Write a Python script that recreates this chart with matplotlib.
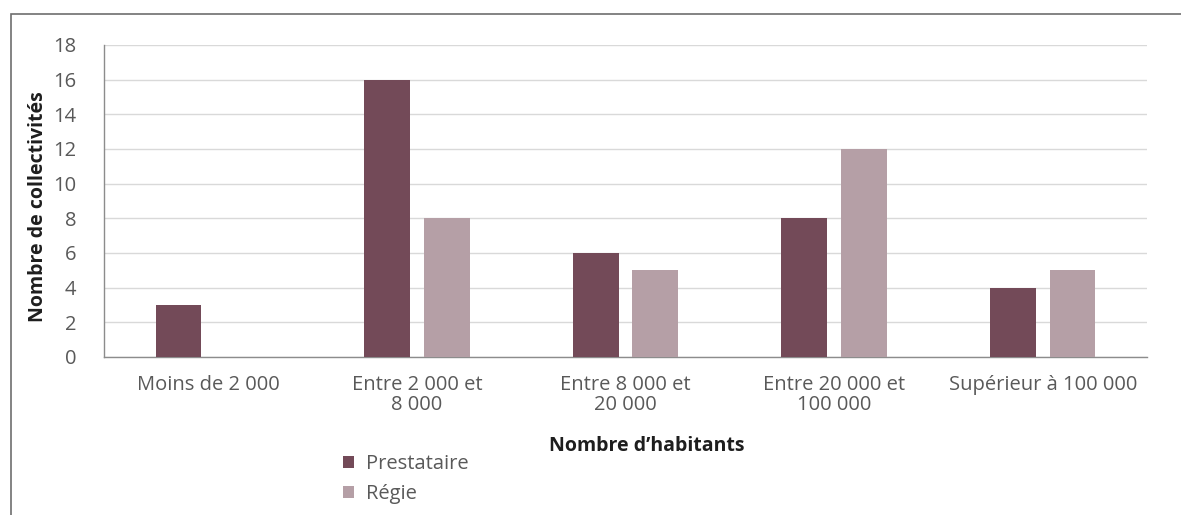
import matplotlib
matplotlib.use("Agg")
import matplotlib.pyplot as plt
import numpy as np
from matplotlib.patches import Rectangle

categories = ["Moins de 2 000", "Entre 2 000 et\n8 000", "Entre 8 000 et\n20 000",
              "Entre 20 000 et\n100 000", "Supérieur à 100 000"]
prestataire = [3, 16, 6, 8, 4]
regie = [0, 8, 5, 12, 5]
yticks = [0, 2, 4, 6, 8, 10, 12, 14, 16, 18]

plt.rcParams['font.family'] = ['Open Sans', 'DejaVu Sans']

W, H = 1181, 515
fig = plt.figure(figsize=(W / 100, H / 100), dpi=100)
ax = fig.add_axes([104 / W, 1 - 357 / H, (1147 - 104) / W, (357 - 45) / H])

x = np.arange(len(categories))
bw = 0.22
off = 0.143
c1 = "#734A58"
c2 = "#B59FA6"
ax.bar(x - off, prestataire, bw, color=c1, label="Prestataire", zorder=3)
ax.bar(x + off, regie, bw, color=c2, label="Régie", zorder=3)

ax.set_xlim(-0.5, len(categories) - 0.5)
ax.set_ylim(0, 18)
ax.set_yticks(yticks)
ax.set_yticklabels([str(v) for v in yticks], color="#595959", fontsize=14.5)
ax.set_xticks(x)
ax.set_xticklabels(categories, color="#595959", fontsize=14.5, linespacing=1.0)
ax.tick_params(axis='x', length=0, pad=13)
ax.tick_params(axis='y', length=0, pad=20)
ax.grid(axis='y', color="#D9D9D9", linewidth=1, zorder=0)
for s in ["top", "right"]:
    ax.spines[s].set_visible(False)
for s in ["left", "bottom"]:
    ax.spines[s].set_color("#8C8C8C")
    ax.spines[s].set_linewidth(1)

fig.text(38 / W, 1 - 207 / H, "Nombre de collectivités", rotation=90,
         ha="center", va="center", fontsize=14, fontweight="bold", color="#1E1E1E")
fig.text(647 / W, 1 - 446 / H, "Nombre d’habitants",
         ha="center", va="center", fontsize=14, fontweight="bold", color="#1E1E1E")

leg = fig.legend(loc="upper left", bbox_to_anchor=(343 / W, 1 - 454 / H),
                 frameon=False, fontsize=14.5, handlelength=0.55, handleheight=0.55,
                 handletextpad=0.6, labelspacing=0.5, borderaxespad=0, borderpad=0)
for t in leg.get_texts():
    t.set_color("#595959")

fig.patches.append(Rectangle((11 / W, -0.01), 1.2, 1 - 14 / H + 0.01,
                             transform=fig.transFigure, fill=False,
                             edgecolor="#6E6E6E", linewidth=1.2))

fig.savefig("out.png", dpi=100)
